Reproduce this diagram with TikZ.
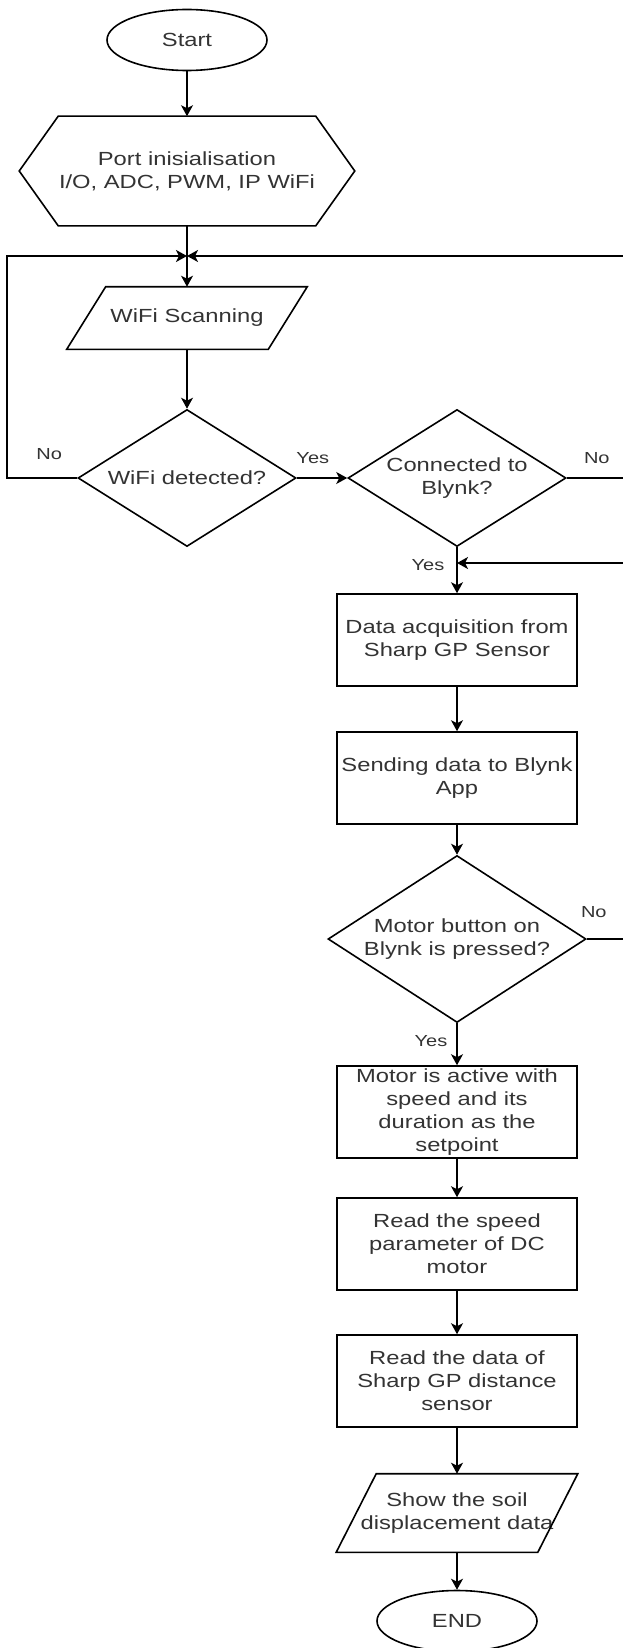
\documentclass[tikz,border=0pt]{standalone}
\usepackage{fontspec}
\setmainfont{Liberation Sans}[FakeStretch=1.25]
\usetikzlibrary{shapes.geometric,arrows.meta}

\begin{document}
\begin{tikzpicture}
  [x=1pt,y=-1pt,line width=1.6pt,
  txt/.style={font=\fontsize{19}{23}\selectfont,text=black!80,inner sep=0pt,align=center},
  term/.style={txt,draw,ellipse,minimum width=160,minimum height=61},
  proc/.style={txt,draw,rectangle,minimum width=240,minimum height=92},
  dec/.style={txt,draw,diamond,aspect=1.6,minimum width=218,minimum height=137},
  io/.style={txt,rectangle,minimum width=200},
  lbl/.style={font=\fontsize{16}{19}\selectfont,text=black!80,inner sep=0pt},
  arr/.style={-{Stealth[length=11pt,width=12pt,inset=3pt]}}]
  \useasboundingbox (0,0) rectangle (623,1648);
  % cột trái
  \node[term] (start) at (187,40) {Start};
  \node[txt,minimum width=250,minimum height=108] (init) at (187,171)
  {Port inisialisation\\I/O, ADC, PWM, IP WiFi};
  \draw (init.north west) -- (init.north east) -- ([xshift=39]init.east)
  -- (init.south east) -- (init.south west) -- ([xshift=-39]init.west) -- cycle;
  \node[io,minimum height=61] (scan) at (187,318) {WiFi Scanning};
  \draw ([xshift=19.5]scan.north west) -- ([xshift=19.5]scan.north east)
  -- ([xshift=-19.5]scan.south east) -- ([xshift=-19.5]scan.south west) -- cycle;
  \node[dec] (wifi) at (187,478) {WiFi detected?};
  % cột phải
  \node[dec] (conn) at (457,478) {Connected to\\Blynk?};
  \node[proc] (data) at (457,640) {Data acquisition from\\Sharp GP Sensor};
  \node[proc] (send) at (457,778) {Sending data to Blynk\\App};
  \node[dec,aspect=1.545,minimum width=258,minimum height=167] (motor) at (457,939)
  {Motor button on\\Blynk is pressed?};
  \node[proc] (act) at (457,1112)
  {Motor is active with\\speed and its\\duration as the\\setpoint};
  \node[proc] (speed) at (457,1244) {Read the speed\\parameter of DC\\motor};
  \node[proc] (sens) at (457,1381) {Read the data of\\Sharp GP distance\\sensor};
  \node[io,minimum height=77] (show) at (457,1513) {Show the soil\\displacement data};
  \draw ([xshift=20]show.north west) -- ([xshift=20]show.north east)
  -- ([xshift=-20]show.south east) -- ([xshift=-20]show.south west) -- cycle;
  \node[term] (stop) at (457,1621) {END};
  \coordinate (merge) at (187,256);
  \coordinate (join) at (457,563);
  % mũi tên
  \draw[arr] (start) -- (init);
  \draw[arr] (init) -- (scan);
  \draw[arr] (scan) -- (wifi);
  \draw[arr] (wifi.west) -- ++(-70,0) |- (merge);
  \draw[arr] (wifi) -- (conn);
  \draw[arr] (conn.east) -- ++(62,0) |- (merge);
  \draw[arr] (conn) -- (data);
  \draw[arr] (motor.east) -- ++(42,0) |- (join);
  \foreach \a/\b in {data/send,send/motor,motor/act,act/speed,speed/sens,sens/show,show/stop}
  \draw[arr] (\a) -- (\b);
  % nhãn
  \path (wifi.west)+(-28,-24) node[lbl] (no1) {No};
  \path (wifi.east)+(16,-20) node[lbl] (yes1) {Yes};
  \path (conn.east)+(30,-20) node[lbl] (no2) {No};
  \path (join)+(-29,2) node[lbl] (yes2) {Yes};
  \path (motor.east)+(7,-27) node[lbl] (no3) {No};
  \path (motor.south)+(-26,18) node[lbl] (yes3) {Yes};
\end{tikzpicture}
\end{document}
